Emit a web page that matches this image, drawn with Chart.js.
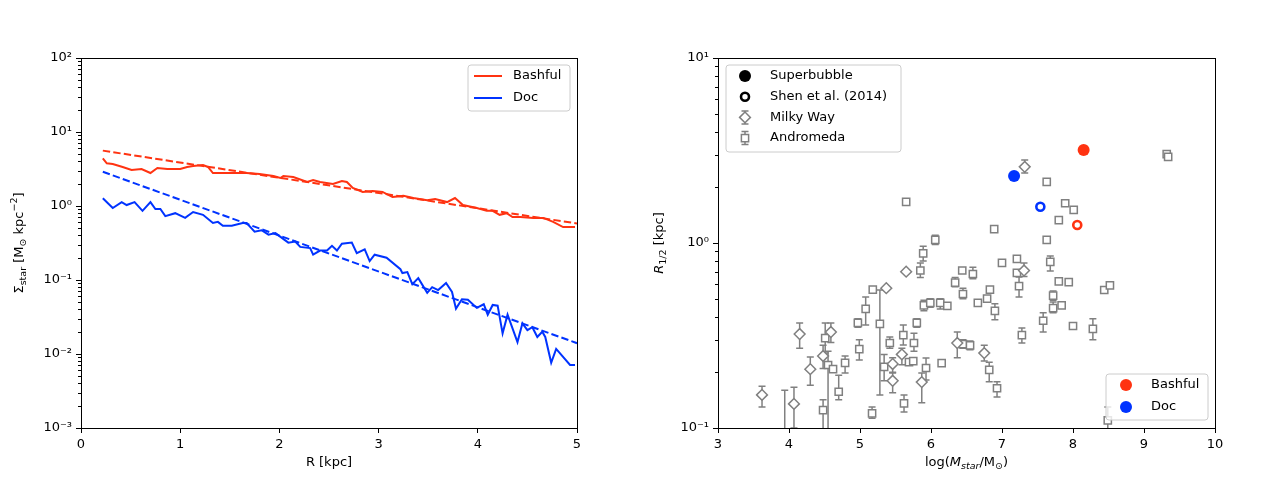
<!DOCTYPE html>
<html lang="en">
<head>
<meta charset="UTF-8">
<title>Bashful and Doc</title>
<style>
  body { margin: 0; background: #fff; }
  .row { display: flex; width: 1280px; height: 480px; }
  canvas { display: block; }
</style>
</head>
<body>
<div class="row">
  <canvas id="profile" width="640" height="480"></canvas>
  <canvas id="sizes" width="640" height="480"></canvas>
</div>
<script src="https://cdn.jsdelivr.net/npm/chart.js"></script>
<script>
// ---- left panel: surface density profiles ----
const bashfulR = [0.22,0.26,0.32,0.42,0.51,0.61,0.70,0.77,0.87,1.00,1.07,1.13,1.23,1.28,1.33,1.43,1.57,1.67,1.80,1.94,2.01,2.04,2.14,2.28,2.34,2.41,2.54,2.63,2.68,2.74,2.84,2.94,3.04,3.14,3.25,3.35,3.49,3.57,3.69,3.77,3.85,3.99,4.09,4.15,4.22,4.29,4.35,4.43,4.56,4.66,4.76,4.86,4.98];
const bashfulS = [4.41,3.78,3.70,3.37,3.06,3.16,2.79,3.26,3.16,3.16,3.37,3.47,3.58,3.37,2.79,2.79,2.79,2.79,2.71,2.54,2.39,2.54,2.47,2.11,2.25,2.11,1.98,2.18,2.11,1.75,1.55,1.60,1.55,1.32,1.37,1.28,1.20,1.24,1.13,1.28,1.03,0.94,0.86,0.86,0.76,0.80,0.71,0.71,0.69,0.69,0.61,0.52,0.52];
const docR = [0.22,0.32,0.41,0.46,0.54,0.62,0.70,0.75,0.80,0.85,0.95,1.05,1.13,1.23,1.33,1.38,1.43,1.52,1.63,1.67,1.75,1.82,1.89,1.96,2.09,2.16,2.21,2.31,2.34,2.41,2.48,2.53,2.58,2.63,2.73,2.78,2.86,2.91,2.96,3.08,3.22,3.24,3.29,3.34,3.40,3.49,3.54,3.60,3.68,3.74,3.78,3.84,3.90,3.99,4.06,4.10,4.15,4.20,4.25,4.30,4.40,4.45,4.50,4.55,4.60,4.65,4.68,4.74,4.79,4.93,4.98];
const docS = [1.27,0.94,1.13,1.03,1.13,0.86,1.13,0.91,0.91,0.73,0.80,0.69,0.83,0.76,0.59,0.61,0.54,0.54,0.59,0.59,0.45,0.47,0.41,0.43,0.32,0.33,0.28,0.27,0.22,0.25,0.25,0.29,0.25,0.31,0.32,0.23,0.26,0.18,0.22,0.20,0.14,0.124,0.128,0.088,0.106,0.067,0.080,0.073,0.091,0.069,0.041,0.055,0.054,0.042,0.047,0.034,0.046,0.045,0.019,0.034,0.0145,0.026,0.021,0.023,0.017,0.020,0.017,0.0076,0.0117,0.0071,0.0071];
const fitR = [0.22, 5.0];
const bashfulFit = [5.6, 0.58];
const docFit = [2.9, 0.014];

// ---- right panel: half-light radius vs stellar mass ----
const andX = [3.94,4.51,4.55,4.62,4.70,4.79,4.48,4.97,4.99,5.08,5.18,5.28,5.34,5.17,5.42,5.61,5.62,5.69,5.75,5.76,5.80,5.93,6.15,5.85,6.34,6.45,5.90,5.99,6.13,6.23,6.45,6.55,5.65,6.06,5.89,6.89,6.44,6.59,6.66,6.83,6.79,6.90,7.00,7.21,7.21,7.24,7.58,7.63,7.63,7.89,8.01,7.80,9.32,9.34,7.68,7.80,7.94,7.72,7.72,7.84,8.44,8.52,8.00,8.28,7.28,6.82,6.93,8.49];
const andY = [0.08,0.306,0.219,0.208,0.157,0.225,0.125,0.37,0.267,0.44,0.56,0.365,0.214,0.12,0.288,0.318,0.136,0.227,0.23,0.288,0.37,0.211,0.224,0.71,0.61,0.53,0.46,0.474,0.474,0.457,0.284,0.28,1.67,1.04,0.88,1.19,0.71,0.68,0.474,0.56,0.50,0.43,0.78,0.82,0.69,0.585,0.38,1.04,2.14,1.64,1.51,1.33,3.02,2.92,0.79,0.62,0.615,0.52,0.445,0.46,0.557,0.59,0.356,0.343,0.318,0.206,0.164,0.11];
const andLo = [0.04,0.254,0.095,null,0.142,0.198,0.095,0.35,0.233,0.36,null,0.151,0.18,0.113,0.27,0.281,0.122,null,null,0.26,0.35,0.182,null,0.65,0.58,0.50,0.43,0.45,0.44,null,0.27,0.265,1.62,0.98,0.80,null,null,0.64,null,null,null,0.385,null,null,null,0.51,0.33,null,null,null,null,null,null,null,0.705,null,null,0.49,0.42,null,null,null,null,0.30,0.288,0.178,0.147,0.09];
const andHi = [0.16,0.37,0.26,null,0.193,0.245,0.142,0.39,0.30,0.51,null,0.557,0.25,0.13,0.31,0.36,0.151,null,null,0.325,0.39,0.239,null,0.78,0.65,0.57,0.49,0.50,0.50,null,0.30,0.295,1.72,1.10,0.96,null,null,0.74,null,null,null,0.47,null,null,null,0.655,0.42,null,null,null,null,null,null,null,0.85,null,null,0.55,0.48,null,null,null,null,0.39,0.347,0.227,0.178,0.13];
const mwX = [3.62,4.15,4.30,4.07,4.59,4.48,5.37,5.65,5.46,5.46,5.59,5.87,6.37,6.75,7.31,7.32];
const mwY = [0.151,0.322,0.208,0.135,0.33,0.245,0.57,0.70,0.222,0.18,0.25,0.177,0.288,0.254,0.71,2.58];
const mwLo = [0.13,0.27,0.17,0.10,0.29,0.21,null,null,0.20,0.155,0.22,0.137,0.24,0.23,0.66,2.39];
const mwHi = [0.168,0.37,0.242,0.166,0.37,0.28,null,null,0.24,0.198,0.27,0.198,0.33,0.28,0.78,2.81];
const simNames = ['Bashful', 'Doc'];
const bubbleX = [8.15, 7.17];
const bubbleY = [3.18, 2.30];
const shenX = [8.06, 7.54];
const shenY = [1.25, 1.57];

const RED = '#ff3311', BLUE = '#0033ff', GRAY = '#808080';
const FONT = "'DejaVu Sans', sans-serif";
const SUP = { '-': '\u207b', '0': '\u2070', '1': '\u00b9', '2': '\u00b2', '3': '\u00b3' };

const isPow10 = v => Math.abs(Math.log10(v) - Math.round(Math.log10(v))) < 1e-6;
const pow10Label = v => '10' + String(Math.round(Math.log10(v))).split('').map(c => SUP[c]).join('');
const xy = (xs, ys) => xs.map((x, i) => ({ x: x, y: ys[i] }));

// draw text made of runs: [text, style] where style is '', 'sub', 'sup', 'i', 'isub'
function drawRuns(ctx, runs, cx, cy, vertical) {
  const fontOf = s => (s.startsWith('i') ? 'italic ' : '') + (s.endsWith('sub') || s === 'sup' ? '9.5px ' : '13px ') + FONT;
  const dyOf = s => s.endsWith('sub') ? 4 : (s === 'sup' ? -5 : 0);
  let total = 0;
  const widths = runs.map(([t, s]) => { ctx.font = fontOf(s); const w = ctx.measureText(t).width; total += w; return w; });
  ctx.save();
  ctx.translate(cx, cy);
  if (vertical) ctx.rotate(-Math.PI / 2);
  ctx.fillStyle = '#000';
  ctx.textBaseline = 'middle';
  let x = -total / 2;
  runs.forEach(([t, s], i) => { ctx.font = fontOf(s); ctx.fillText(t, x, dyOf(s)); x += widths[i]; });
  ctx.restore();
}

function legendBox(ctx, x, y, w, h) {
  ctx.save();
  ctx.beginPath();
  ctx.roundRect(x, y, w, h, 3);
  ctx.fillStyle = 'rgba(255,255,255,0.8)';
  ctx.fill();
  ctx.strokeStyle = '#cccccc';
  ctx.lineWidth = 1;
  ctx.stroke();
  ctx.restore();
}

function marker(ctx, style, r, x, y, fill, stroke, bw) {
  ctx.save();
  ctx.fillStyle = fill;
  ctx.strokeStyle = stroke;
  ctx.lineWidth = bw;
  Chart.helpers.drawPoint(ctx, { pointStyle: style, radius: r, borderWidth: bw, rotation: 0 }, x, y);
  ctx.restore();
}

function errBar(ctx, x, y1, y2) {
  ctx.beginPath();
  ctx.moveTo(x, y1); ctx.lineTo(x, y2);
  ctx.moveTo(x - 3.5, y1); ctx.lineTo(x + 3.5, y1);
  ctx.moveTo(x - 3.5, y2); ctx.lineTo(x + 3.5, y2);
  ctx.stroke();
}

// frame, minor log ticks and axis titles
const framePlugin = {
  id: 'frame',
  afterDraw(chart, args, opts) {
    const { ctx, chartArea: a } = chart;
    const ys = chart.scales.y;
    ctx.save();
    ctx.strokeStyle = '#000';
    ctx.lineWidth = 1;
    ctx.beginPath();
    for (let e = Math.floor(Math.log10(ys.min)); e < Math.ceil(Math.log10(ys.max)); e++) {
      for (let k = 2; k < 10; k++) {
        const v = k * Math.pow(10, e);
        if (v <= ys.min || v >= ys.max) continue;
        const py = Math.round(ys.getPixelForValue(v)) + 0.5;
        ctx.moveTo(a.left, py); ctx.lineTo(a.left - 3, py);
      }
    }
    ctx.stroke();
    ctx.strokeRect(Math.round(a.left) + 0.5, Math.round(a.top) + 0.5, Math.round(a.right - a.left), Math.round(a.bottom - a.top));
    ctx.restore();
    drawRuns(ctx, opts.xTitle, (a.left + a.right) / 2, a.bottom + 35, false);
    drawRuns(ctx, opts.yTitle, opts.yTitleX, (a.top + a.bottom) / 2, true);
    if (opts.legend) opts.legend(ctx, a);
  }
};

// error bars under the markers
const errorPlugin = {
  id: 'errors',
  beforeDatasetsDraw(chart) {
    const { ctx, chartArea: a } = chart;
    const xs = chart.scales.x, ys = chart.scales.y;
    ctx.save();
    ctx.beginPath();
    ctx.rect(a.left, a.top, a.right - a.left, a.bottom - a.top);
    ctx.clip();
    ctx.strokeStyle = GRAY;
    ctx.lineWidth = 1.5;
    chart.data.datasets.forEach(ds => {
      if (!ds.errLo) return;
      ds.data.forEach((p, i) => {
        if (ds.errLo[i] == null) return;
        errBar(ctx, xs.getPixelForValue(p.x), ys.getPixelForValue(ds.errLo[i]), ys.getPixelForValue(ds.errHi[i]));
      });
    });
    ctx.restore();
  }
};

function scales(xmin, xmax, ymin, ymax, yWidth) {
  const tick = { color: '#000', font: { family: FONT, size: 13 }, padding: 4 };
  const grid = { display: true, drawOnChartArea: false, color: '#000', tickLength: 5, tickWidth: 1 };
  return {
    x: {
      type: 'linear', min: xmin, max: xmax,
      ticks: Object.assign({ stepSize: 1, callback: v => String(v) }, tick),
      grid: grid, border: { display: false },
      afterFit: s => { s.height = 52; }
    },
    y: {
      type: 'logarithmic', min: ymin, max: ymax,
      ticks: Object.assign({ autoSkip: false, callback: v => isPow10(v) ? pow10Label(v) : '' }, tick),
      grid: grid, border: { display: false },
      afterBuildTicks: s => { s.ticks = s.ticks.filter(t => isPow10(t.value)); },
      afterFit: s => { s.width = yWidth; }
    }
  };
}

const lineSet = (label, xs, ys, color, dash) => ({
  label: label, data: xy(xs, ys), showLine: true, borderColor: color, backgroundColor: color,
  borderWidth: 2, pointRadius: 0, borderDash: dash || [], tension: 0
});

new Chart(document.getElementById('profile'), {
  type: 'scatter',
  data: {
    datasets: [
      lineSet('Bashful', bashfulR, bashfulS, RED),
      lineSet('Doc', docR, docS, BLUE),
      lineSet('Bashful fit', fitR, bashfulFit, RED, [7.4, 3.2]),
      lineSet('Doc fit', fitR, docFit, BLUE, [7.4, 3.2])
    ]
  },
  options: {
    responsive: false,
    animation: false,
    layout: { padding: { left: 0, top: 58, right: 63, bottom: 0 } },
    scales: scales(0, 5, 1e-3, 1e2, 81),
    plugins: {
      legend: { display: false },
      tooltip: { enabled: false },
      frame: {
        xTitle: [['R [kpc]', '']],
        yTitle: [['\u03a3', ''], ['star', 'sub'], [' [M', ''], ['\u2299', 'sub'], [' kpc', ''], ['\u22122', 'sup'], [']', '']],
        yTitleX: 20,
        legend: (ctx, a) => {
          const bw = 102, bh = 46, bx = a.right - 7 - bw, by = a.top + 7;
          legendBox(ctx, bx, by, bw, bh);
          [['Bashful', RED], ['Doc', BLUE]].forEach(([t, c], i) => {
            const y = by + 11 + i * 22;
            ctx.save();
            ctx.strokeStyle = c; ctx.lineWidth = 2;
            ctx.beginPath(); ctx.moveTo(bx + 6, y); ctx.lineTo(bx + 34, y); ctx.stroke();
            ctx.fillStyle = '#000'; ctx.font = '13px ' + FONT; ctx.textBaseline = 'middle';
            ctx.fillText(t, bx + 45, y);
            ctx.restore();
          });
        }
      }
    }
  },
  plugins: [framePlugin]
});

new Chart(document.getElementById('sizes'), {
  type: 'scatter',
  data: {
    datasets: [
      { label: 'Superbubble', data: xy(bubbleX, bubbleY), pointStyle: 'circle', pointRadius: 6,
        backgroundColor: [RED, BLUE], borderColor: [RED, BLUE], borderWidth: 0 },
      { label: 'Shen et al. (2014)', data: xy(shenX, shenY), pointStyle: 'circle', pointRadius: 4,
        backgroundColor: '#fff', borderColor: [RED, BLUE], borderWidth: 2.6 },
      { label: 'Milky Way', data: xy(mwX, mwY), errLo: mwLo, errHi: mwHi, pointStyle: 'rectRot', pointRadius: 5.4,
        backgroundColor: '#fff', borderColor: GRAY, borderWidth: 1.5 },
      { label: 'Andromeda', data: xy(andX, andY), errLo: andLo, errHi: andHi, pointStyle: 'rect', pointRadius: 5.1,
        backgroundColor: '#fff', borderColor: GRAY, borderWidth: 1.5 }
    ]
  },
  options: {
    responsive: false,
    animation: false,
    layout: { padding: { left: 0, top: 58, right: 65, bottom: 0 } },
    scales: scales(3, 10, 0.1, 10, 78),
    plugins: {
      legend: { display: false },
      tooltip: { enabled: false },
      frame: {
        xTitle: [['log(', ''], ['M', 'i'], ['star', 'isub'], ['/M', ''], ['\u2299', 'sub'], [')', '']],
        yTitle: [['R', 'i'], ['1/2', 'sub'], [' [kpc]', '']],
        yTitleX: 20,
        legend: (ctx, a) => {
          // marker types
          let bx = a.left + 8, by = a.top + 7;
          legendBox(ctx, bx, by, 175, 87);
          const rows = [
            ['Superbubble', (x, y) => marker(ctx, 'circle', 6, x, y, '#000', '#000', 0)],
            ['Shen et al. (2014)', (x, y) => marker(ctx, 'circle', 4, x, y, '#fff', '#000', 2.6)],
            ['Milky Way', (x, y) => { ctx.save(); ctx.strokeStyle = GRAY; ctx.lineWidth = 1.5; errBar(ctx, x, y - 6.5, y + 6.5); ctx.restore(); marker(ctx, 'rectRot', 5.4, x, y, '#fff', GRAY, 1.5); }],
            ['Andromeda', (x, y) => { ctx.save(); ctx.strokeStyle = GRAY; ctx.lineWidth = 1.5; errBar(ctx, x, y - 6.5, y + 6.5); ctx.restore(); marker(ctx, 'rect', 5.1, x, y, '#fff', GRAY, 1.5); }]
          ];
          rows.forEach(([t, draw], i) => {
            const y = by + 11 + i * 20.7;
            draw(bx + 19, y);
            ctx.save();
            ctx.fillStyle = '#000'; ctx.font = '13px ' + FONT; ctx.textBaseline = 'middle';
            ctx.fillText(t, bx + 44, y);
            ctx.restore();
          });
          // simulations
          const bw = 102, bh = 46;
          bx = a.right - 7 - bw; by = a.bottom - 8 - bh;
          legendBox(ctx, bx, by, bw, bh);
          simNames.forEach((t, i) => {
            const y = by + 11 + i * 22;
            marker(ctx, 'circle', 6, bx + 20, y, [RED, BLUE][i], [RED, BLUE][i], 0);
            ctx.save();
            ctx.fillStyle = '#000'; ctx.font = '13px ' + FONT; ctx.textBaseline = 'middle';
            ctx.fillText(t, bx + 45, y);
            ctx.restore();
          });
        }
      }
    }
  },
  plugins: [errorPlugin, framePlugin]
});
</script>
</body>
</html>
